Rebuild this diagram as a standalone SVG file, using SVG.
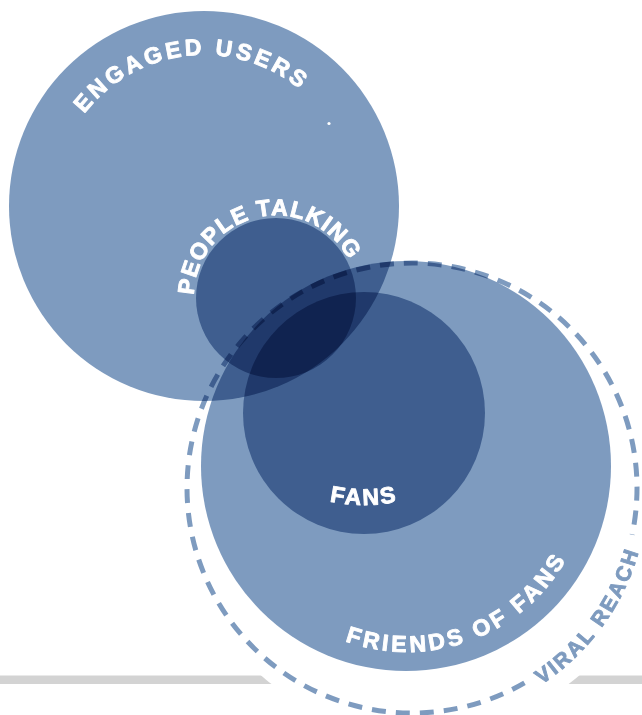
<svg xmlns="http://www.w3.org/2000/svg" width="642" height="715" viewBox="0 0 642 715">
  <style>
    .ring { fill: #7e9bbf; mix-blend-mode: multiply; }
    .label { font-family: "Liberation Sans", Arial, sans-serif; font-weight: bold; fill: #ffffff; stroke: #ffffff; stroke-width: 0.9; stroke-linejoin: round; }
    .outer { fill: #7e9bbf; stroke: #7e9bbf; }
  </style>
  <defs>
    <path id="arc-engaged" d="M53.6,219.2 A151,151 0 0 1 353.9,187.6"/>
    <path id="arc-talking" d="M195.8,315.0 A81.3,81.3 0 0 1 355.9,279.6"/>
    <path id="arc-fans" d="M222.8,423.5 A163,163 0 0 0 505.2,423.5"/>
    <path id="arc-friends" d="M235.8,533.4 A183,183 0 0 0 578.4,404.6"/>
    <path id="arc-viral" d="M387.4,722.2 A235.5,235.5 0 0 0 627.1,392.2"/>
  </defs>

  <rect x="0" y="0" width="642" height="715" fill="#ffffff"/>

  <!-- ground line, broken by the reach halo -->
  <rect x="0" y="675.5" width="642" height="8.5" fill="#d3d3d3"/>

  <g id="viral-reach">
    <circle cx="420" cy="488" r="246" fill="#ffffff"/>
    <path d="M524.5,682.9 A225,225 0 1 1 632.1,534.8" fill="none" stroke="#7e9bbf" stroke-width="5" stroke-dasharray="14 10"/>
  </g>

  <g id="engaged-users">
    <circle class="ring" cx="204" cy="206" r="195"/>
  </g>
  <g id="friends-of-fans">
    <circle class="ring" cx="406" cy="466" r="205"/>
  </g>
  <g id="people-talking">
    <circle class="ring" cx="276" cy="298" r="80"/>
  </g>
  <g id="fans">
    <circle class="ring" cx="364" cy="413" r="121"/>
  </g>

  <circle cx="329" cy="123.5" r="1.6" fill="#ffffff"/>

  <g id="labels">
    <text class="label" font-size="23" letter-spacing="3.3"><textPath href="#arc-engaged" startOffset="50%" text-anchor="middle">ENGAGED USERS</textPath></text>
    <text class="label" font-size="23" letter-spacing="1.2"><textPath href="#arc-talking" startOffset="50%" text-anchor="middle">PEOPLE TALKING</textPath></text>
    <text class="label" font-size="23" letter-spacing="2"><textPath href="#arc-fans" startOffset="50%" text-anchor="middle">FANS</textPath></text>
    <text class="label" font-size="23" letter-spacing="3.4"><textPath href="#arc-friends" startOffset="50%" text-anchor="middle">FRIENDS OF FANS</textPath></text>
    <text class="label outer" font-size="21" letter-spacing="2.4"><textPath href="#arc-viral" startOffset="50%" text-anchor="middle">VIRAL REACH</textPath></text>
  </g>
</svg>
